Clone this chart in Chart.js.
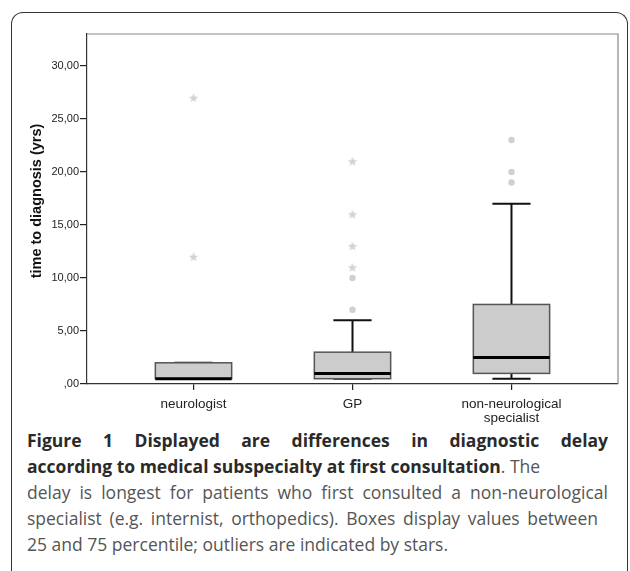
<!DOCTYPE html>
<html>
<head>
<meta charset="utf-8">
<script src="https://cdn.jsdelivr.net/npm/chart.js@4.4.1/dist/chart.umd.min.js"></script>
<style>
html,body{margin:0;background:#fff;width:630px;height:571px;overflow:hidden}
body{position:relative;font-family:"Open Sans",sans-serif}
#frame{position:absolute;left:11px;top:12px;width:615px;height:700px;border:1.5px solid #333;border-bottom:none;border-radius:12px 12px 0 0}
#wrap{position:absolute;left:0;top:0;width:630px;height:425px}
#caption{position:absolute;left:27px;top:427px;width:581px;font-size:17.5px;line-height:26px;color:#555;white-space:nowrap}
#caption .j{text-align:justify;text-align-last:justify;white-space:normal}
#caption b{color:#2a2a2a}
</style>
</head>
<body>
<div id="frame"></div>
<div id="wrap"><canvas id="boxChart"></canvas></div>
<div id="caption">
<div class="j"><b>Figure 1 Displayed are differences in diagnostic delay</b></div>
<div><b>according to medical subspecialty at first consultation</b>. The</div>
<div class="j">delay is longest for patients who first consulted a non-neurological</div>
<div class="j" style="width:571px">specialist (e.g. internist, orthopedics). Boxes display values between</div>
<div>25 and 75 percentile; outliers are indicated by stars.</div>
</div>
<script>
// data (years)
const categories = ['neurologist', 'GP', ['non-neurological', 'specialist']];
const whiskerLow = [0.5, 0.5, 0.5];
const q1 = [0.5, 0.5, 1.0];
const median = [0.5, 1.0, 2.5];
const q3 = [2.0, 3.0, 7.5];
const whiskerHigh = [2.0, 6.0, 17.0];
const circleOutliers = [[], [7, 10], [19, 20, 23]];
const starOutliers = [[12, 27], [11, 13, 16, 21], []];
const yTicks = [0, 5, 10, 15, 20, 25, 30];
const yTitle = 'time to diagnosis (yrs)';

// small 5-point star used as point style
function makeStar(size, color) {
    const c = document.createElement('canvas');
    c.width = size; c.height = size;
    const g = c.getContext('2d');
    const r = size / 2, ri = r * 0.42;
    g.beginPath();
    for (let k = 0; k < 10; k++) {
        const rad = k % 2 ? ri : r;
        const ang = -Math.PI / 2 + k * Math.PI / 5;
        g.lineTo(r + rad * Math.cos(ang), r + rad * Math.sin(ang) + 0.5);
    }
    g.closePath();
    g.fillStyle = color;
    g.fill();
    return c;
}
const star = makeStar(10, '#d2d2d2');

const circlePts = [], starPts = [];
categories.forEach((c, i) => {
    circleOutliers[i].forEach(v => circlePts.push({x: i, y: v}));
    starOutliers[i].forEach(v => starPts.push({x: i, y: v}));
});

const boxPlugin = {
    id: 'boxes',
    beforeDatasetsDraw(chart) {
        const {ctx, scales: {x, y}} = chart;
        ctx.save();
        categories.forEach((c, i) => {
            const cx = x.getPixelForValue(i);
            const bl = x.getPixelForValue(i - 0.24), br = x.getPixelForValue(i + 0.24);
            const cl = x.getPixelForValue(i - 0.12), cr = x.getPixelForValue(i + 0.12);
            // whiskers
            ctx.strokeStyle = '#111';
            ctx.lineWidth = 2;
            ctx.beginPath();
            ctx.moveTo(cx, y.getPixelForValue(q3[i])); ctx.lineTo(cx, y.getPixelForValue(whiskerHigh[i]));
            ctx.moveTo(cl, y.getPixelForValue(whiskerHigh[i])); ctx.lineTo(cr, y.getPixelForValue(whiskerHigh[i]));
            ctx.moveTo(cx, y.getPixelForValue(q1[i])); ctx.lineTo(cx, y.getPixelForValue(whiskerLow[i]));
            ctx.moveTo(cl, y.getPixelForValue(whiskerLow[i])); ctx.lineTo(cr, y.getPixelForValue(whiskerLow[i]));
            ctx.stroke();
            // box
            const top = y.getPixelForValue(q3[i]), bot = y.getPixelForValue(q1[i]);
            ctx.fillStyle = '#cccccc';
            ctx.fillRect(bl, top, br - bl, bot - top);
            ctx.strokeStyle = '#555';
            ctx.lineWidth = 1.5;
            ctx.strokeRect(bl, top, br - bl, bot - top);
            // median
            ctx.strokeStyle = '#000';
            ctx.lineWidth = 3;
            ctx.beginPath();
            ctx.moveTo(bl, y.getPixelForValue(median[i])); ctx.lineTo(br, y.getPixelForValue(median[i]));
            ctx.stroke();
        });
        ctx.restore();
    },
    afterDraw(chart) {
        const {ctx, chartArea: a} = chart;
        ctx.save();
        // top and right frame
        ctx.strokeStyle = '#888';
        ctx.lineWidth = 1.2;
        ctx.beginPath();
        ctx.moveTo(a.left, a.top); ctx.lineTo(a.right, a.top); ctx.lineTo(a.right, a.bottom);
        ctx.stroke();
        // y axis title, a bit above centre like the original
        ctx.translate(37, (a.top + a.bottom) / 2 - 8);
        ctx.rotate(-Math.PI / 2);
        ctx.font = 'bold 14.5px "Liberation Sans"';
        ctx.fillStyle = '#111';
        ctx.textAlign = 'center';
        ctx.textBaseline = 'middle';
        ctx.fillText(yTitle, 0, 0);
        ctx.restore();
    }
};

const ctx = document.getElementById('boxChart').getContext('2d');
new Chart(ctx, {
    type: 'scatter',
    data: {
        datasets: [{
            label: 'outliers',
            data: circlePts,
            pointStyle: 'circle',
            pointRadius: 3.2,
            backgroundColor: '#d0d0d0',
            borderWidth: 0
        }, {
            label: 'extreme',
            data: starPts,
            pointStyle: star,
            pointRadius: 5
        }]
    },
    options: {
        responsive: true,
        maintainAspectRatio: false,
        animation: false,
        layout: {padding: {top: 34, right: 12, left: 0, bottom: 0}},
        plugins: {legend: {display: false}, tooltip: {enabled: false}},
        scales: {
            x: {
                type: 'linear',
                min: -0.67,
                max: 2.67,
                afterBuildTicks: s => { s.ticks = categories.map((c, i) => ({value: i})); },
                afterFit: s => { s.height = 41; },
                ticks: {
                    callback: (v) => categories[v],
                    color: '#222',
                    font: {family: 'Liberation Sans', size: 13.5, lineHeight: 1.0},
                    padding: 8,
                    maxRotation: 0
                },
                grid: {drawOnChartArea: false, tickLength: 6, color: '#222', lineWidth: 1.2},
                border: {color: '#333', width: 1.2}
            },
            y: {
                min: 0,
                max: 33,
                afterBuildTicks: s => { s.ticks = yTicks.map(v => ({value: v})); },
                afterFit: s => { s.width = 87; },
                ticks: {
                    callback: v => v === 0 ? ',00' : v.toFixed(2).replace('.', ','),
                    color: '#222',
                    font: {family: 'Liberation Sans', size: 11},
                    padding: 1
                },
                grid: {drawOnChartArea: false, tickLength: 7, color: '#222', lineWidth: 1.2},
                border: {color: '#333', width: 1.2}
            }
        }
    },
    plugins: [boxPlugin]
});
</script>
</body>
</html>
